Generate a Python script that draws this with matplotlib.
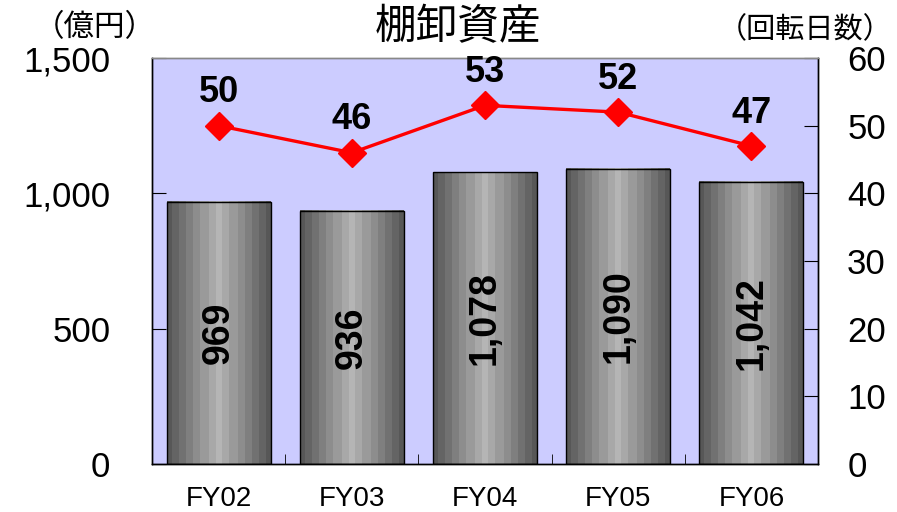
import matplotlib
matplotlib.use("Agg")
import matplotlib.pyplot as plt
import numpy as np

plt.rcParams['font.family'] = ['Liberation Sans', 'Noto Sans CJK JP']

# data
years = ['FY02', 'FY03', 'FY04', 'FY05', 'FY06']
inventory = [969, 936, 1078, 1090, 1042]      # 億円
turnover_days = [50, 46, 53, 52, 47]          # 回転日数
left_ticks = [0, 500, 1000, 1500]
right_ticks = [0, 10, 20, 30, 40, 50, 60]

fig = plt.figure(figsize=(8.97, 5.12), dpi=100)
ax = fig.add_axes([152/897, 48/512, 666/897, 406/512])
ax.set_facecolor('#ccccff')

x = np.arange(len(years))
bars = ax.bar(x, inventory, width=0.78, color='none', edgecolor='black', lw=1.0, zorder=3)

# cylinder-like shading: dark edges, light middle, stepped bands
t = np.linspace(0, 1, 60)
shade = 1 - np.abs(2 * t - 1)
shade = np.round(shade * 7) / 7
grad = (0.34 + 0.37 * shade)[None, :]
for b in bars:
    ax.imshow(grad, extent=[b.get_x(), b.get_x() + b.get_width(), 0, b.get_height()],
              aspect='auto', cmap='gray', vmin=0, vmax=1, zorder=2, interpolation='nearest')

for xi, v in zip(x, inventory):
    ax.text(xi, v / 2, f'{v:,}', rotation=90, ha='center', va='center',
            fontsize=27, fontweight='bold', zorder=4)

ax.set_xlim(-0.5, len(years) - 0.5)
ax.set_ylim(0, 1500)
ax.set_yticks(left_ticks, [f'{v:,}' for v in left_ticks])
ax.tick_params(axis='y', direction='in', length=10, pad=30, labelsize=25)
ax.set_xticks(x, years)
ax.tick_params(axis='x', length=0, pad=16, labelsize=20)
ax.set_xticks(x[:-1] + 0.5, minor=True)
ax.tick_params(axis='x', which='minor', direction='in', length=7)

ax2 = ax.twinx()
ax2.set_ylim(0, 60)
ax2.plot(x, turnover_days, color='#ff0000', lw=2.4, marker='D', ms=14, zorder=5)
for xi, d in zip(x, turnover_days):
    ax2.annotate(str(d), (xi, d), xytext=(0, 11), textcoords='offset points',
                 ha='center', va='bottom', fontsize=26, fontweight='bold')
ax2.set_yticks(right_ticks)
ax2.tick_params(axis='y', direction='in', length=10, pad=21, labelsize=25)

for a in (ax, ax2):
    for s in a.spines.values():
        s.set_color('black')
        s.set_linewidth(1.0)
    a.spines['top'].set_color('#888888')

fig.text(458/897, 1 - 28/512, '棚卸資産', ha='center', va='center', fontsize=30,
         family=['Noto Sans CJK JP'])
fig.text(95/897, 1 - 28/512, '（億円）', ha='center', va='center', fontsize=22,
         family=['Noto Sans CJK JP'])
fig.text(805/897, 1 - 30/512, '（回転日数）', ha='center', va='center', fontsize=21,
         family=['Noto Sans CJK JP'])

fig.savefig('out.png', dpi=100)
